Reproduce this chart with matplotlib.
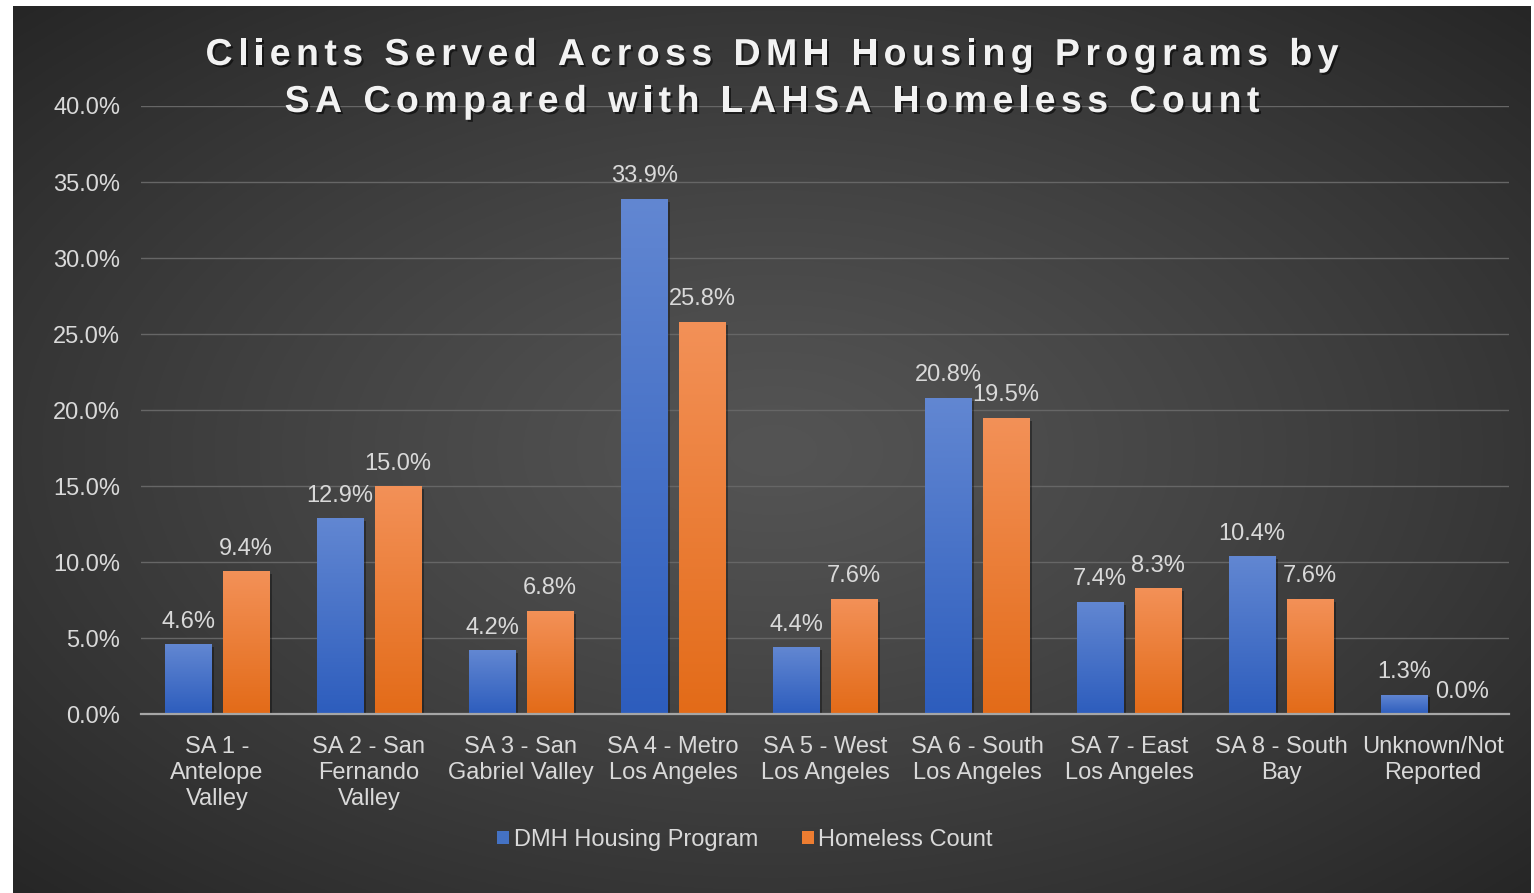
import numpy as np
import matplotlib
matplotlib.use("Agg")
import matplotlib.pyplot as plt
from matplotlib.colors import LinearSegmentedColormap
from matplotlib.patches import Patch
import matplotlib.patheffects as pe
from matplotlib import font_manager
from matplotlib import ft2font

# ---------------- data ----------------
categories = ["SA 1 -\nAntelope\nValley", "SA 2 - San\nFernando\nValley",
              "SA 3 - San\nGabriel Valley", "SA 4 - Metro\nLos Angeles",
              "SA 5 - West\nLos Angeles", "SA 6 - South\nLos Angeles",
              "SA 7 - East\nLos Angeles", "SA 8 - South\nBay",
              "Unknown/Not\nReported"]
dmh_values = [4.6, 12.9, 4.2, 33.9, 4.4, 20.8, 7.4, 10.4, 1.3]
homeless_values = [9.4, 15.0, 6.8, 25.8, 7.6, 19.5, 8.3, 7.6, 0.0]
series_names = ["DMH Housing Program", "Homeless Count"]
y_ticks = [0, 5, 10, 15, 20, 25, 30, 35, 40]
title_lines = ["Clients Served Across DMH Housing Programs by",
               "SA Compared with LAHSA Homeless Count"]

# ---------------- style ----------------
W, H, DPI = 1534, 893, 100
FONT = "Liberation Sans"
TXT = "#d9d9d9"
blue_top, blue_bot = "#6287d2", "#2d5dbd"
orng_top, orng_bot = "#f39158", "#e36b18"

fig = plt.figure(figsize=(W / DPI, H / DPI), dpi=DPI, facecolor="white")

# background panel with radial gradient
bx0, by0, bx1, by1 = 13, 6, 1531, 893
bg_ax = fig.add_axes([bx0 / W, 1 - by1 / H, (bx1 - bx0) / W, (by1 - by0) / H])
bg_ax.set_axis_off()
ny, nx = 400, 700
yy, xx = np.mgrid[0:ny, 0:nx]
cx, cy = nx * 0.50, ny * 0.50
r = np.sqrt(((xx - cx) / (nx * 0.5)) ** 2 + ((yy - cy) / (ny * 0.5)) ** 2) / np.sqrt(2)
r = np.clip(r, 0, 1)
c_center, c_edge = 0x54 / 255, 0x26 / 255
val = c_center - (c_center - c_edge) * r ** 1.2
bg_ax.imshow(np.dstack([val, val, val]), aspect="auto", extent=[0, 1, 0, 1])
bg_ax.set_xlim(0, 1)
bg_ax.set_ylim(0, 1)

# main axes
ax_l, ax_r, ax_t, ax_b = 141, 1509, 106, 714.3
ax = fig.add_axes([ax_l / W, 1 - ax_b / H, (ax_r - ax_l) / W, (ax_b - ax_t) / H])
ax.patch.set_alpha(0)

x = np.arange(len(categories))
bw = 0.303
off = 0.19
bars1 = ax.bar(x - off, dmh_values, bw, color=blue_bot, zorder=3)
bars2 = ax.bar(x + off, homeless_values, bw, color=orng_bot, zorder=3)

shadow = [pe.SimplePatchShadow(offset=(2, -2), shadow_rgbFace="black", alpha=0.35), pe.Normal()]
grad = np.linspace(0, 1, 256).reshape(-1, 1)
for bars, top, bot in [(bars1, blue_top, blue_bot), (bars2, orng_top, orng_bot)]:
    cmap = LinearSegmentedColormap.from_list("g", [bot, top])
    for p in bars:
        p.set_path_effects(shadow)
        h = p.get_height()
        if h <= 0:
            continue
        x0 = p.get_x()
        im = ax.imshow(grad, extent=[x0, x0 + p.get_width(), 0, h], origin="lower",
                       aspect="auto", cmap=cmap, zorder=3.5)
        im.set_clip_path(p)

for bars, vals in [(bars1, dmh_values), (bars2, homeless_values)]:
    for p, v in zip(bars, vals):
        ax.annotate(f"{v:.1f}%", (p.get_x() + p.get_width() / 2, v),
                    xytext=(0, 8.3), textcoords="offset points", ha="center", va="bottom",
                    fontsize=17, color=TXT, family=FONT, zorder=5)

ax.set_xlim(-0.5, len(categories) - 0.5)
ax.set_ylim(0, 40)
ax.set_yticks(y_ticks)
ax.set_yticklabels([f"{t:.1f}%" for t in y_ticks], fontsize=17, color=TXT, family=FONT)
ax.set_xticks(x)
ax.set_xticklabels(categories, fontsize=17, color=TXT, family=FONT, linespacing=1.24)
ax.tick_params(axis="y", length=0, pad=15)
ax.tick_params(axis="x", length=0, pad=15.5)
for s in ["top", "right", "left"]:
    ax.spines[s].set_visible(False)
ax.spines["bottom"].set_color("#a6a6a6")
ax.spines["bottom"].set_linewidth(1.6)
ax.spines["bottom"].set_zorder(4)
ax.yaxis.grid(True, color="#666666", linewidth=1.0, zorder=0)
ax.set_axisbelow(True)

# legend
handles = [Patch(facecolor="#4472c4", edgecolor="none"),
           Patch(facecolor="#ed7d31", edgecolor="none")]
leg = fig.legend(handles, series_names, loc="center", bbox_to_anchor=(745 / W, 1 - 840 / H),
                 ncol=2, frameon=False, handlelength=0.5, handleheight=0.5,
                 handletextpad=0.2, columnspacing=1.85, prop={"family": FONT, "size": 17})
for t in leg.get_texts():
    t.set_color(TXT)

# title with letter spacing
tfp = font_manager.FontProperties(family=FONT, weight="bold", size=27)
font_path = font_manager.findfont(tfp)
ftf = ft2font.FT2Font(font_path)
ftf.set_size(27, DPI)
try:
    flag = ft2font.LoadFlags.NO_HINTING
except AttributeError:
    flag = ft2font.LOAD_NO_HINTING

def advances(s):
    return [ftf.load_char(ord(c), flags=flag).linearHoriAdvance / 65536.0 for c in s]

adv1 = advances(title_lines[0])
target1 = 1133.0
spacing = (target1 - sum(adv1[:-1]) - adv1[-1]) / (len(title_lines[0]) - 1)
baselines = [65, 112]
title_fx = [pe.SimplePatchShadow(offset=(1.5, -1.5), shadow_rgbFace="black", alpha=0.55), pe.Normal()]
for line, base in zip(title_lines, baselines):
    adv = advances(line)
    total = sum(adv) + spacing * (len(line) - 1)
    xpos = 772 - total / 2
    for c, a in zip(line, adv):
        if c != " ":
            fig.text(xpos / W, 1 - base / H, c, fontproperties=tfp, color="#f2f2f2",
                     ha="left", va="baseline", path_effects=title_fx)
        xpos += a + spacing

fig.savefig("out.png", dpi=DPI, facecolor="white")
